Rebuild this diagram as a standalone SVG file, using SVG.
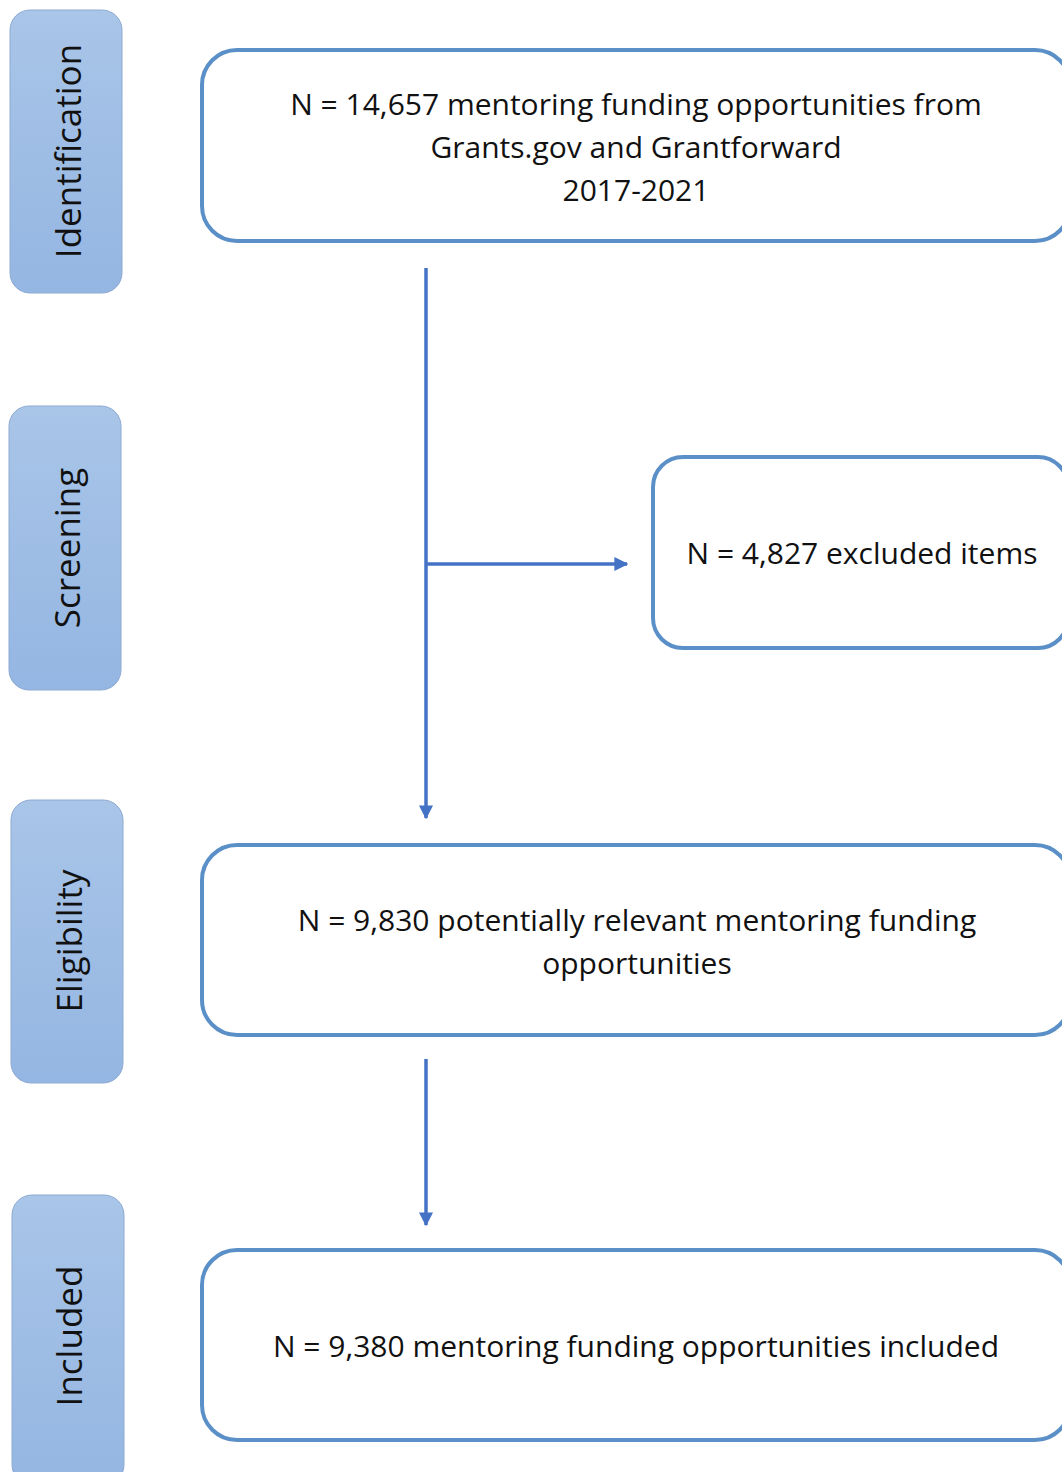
<svg xmlns="http://www.w3.org/2000/svg" width="1062" height="1472" viewBox="0 0 1062 1472">
<defs>
<linearGradient id="g" x1="0" y1="0" x2="0" y2="1">
<stop offset="0" stop-color="#a9c5e8"/>
<stop offset="1" stop-color="#94b6e2"/>
</linearGradient>
<marker id="ah" viewBox="0 0 10 10" refX="9" refY="5" markerWidth="4" markerHeight="4" orient="auto" markerUnits="strokeWidth">
<path d="M0,0 L10,5 L0,10 z" fill="#4472c4"/>
</marker>
<style>
.side{fill:url(#g);stroke:#8eaad2;stroke-width:1}
.box{fill:#fff;stroke:#5b8fc7;stroke-width:4}
.st{font-family:"Open Sans","Liberation Sans",sans-serif;font-size:35px;fill:#111;text-anchor:middle}
.bt{font-family:"Open Sans","Liberation Sans",sans-serif;font-size:30px;fill:#111;text-anchor:middle}
.con{stroke:#4472c4;stroke-width:3.5;fill:none}
</style>
</defs>
<rect width="1062" height="1472" fill="#fff"/>
<g id="side-identification"><rect class="side" x="10" y="10" width="112" height="283" rx="20"/><text class="st" transform="translate(81,151) rotate(-90)">Identification</text></g>
<g id="side-screening"><rect class="side" x="9" y="406" width="112" height="284" rx="20"/><text class="st" transform="translate(80,548) rotate(-90)">Screening</text></g>
<g id="side-eligibility"><rect class="side" x="11" y="800" width="112" height="283" rx="20"/><text class="st" transform="translate(82,941) rotate(-90)">Eligibility</text></g>
<g id="side-included"><rect class="side" x="12" y="1195" width="112" height="290" rx="20"/><text class="st" transform="translate(82,1336) rotate(-90)">Included</text></g>
<g id="box-identification"><rect class="box" x="202" y="50" width="868" height="191" rx="35"/>
<text class="bt" x="636" y="115">N = 14,657 mentoring funding opportunities from</text>
<text class="bt" x="636" y="158">Grants.gov and Grantforward</text>
<text class="bt" x="636" y="201">2017-2021</text></g>
<g id="box-excluded"><rect class="box" x="653" y="457" width="415" height="191" rx="30"/>
<text class="bt" x="862" y="564">N = 4,827 excluded items</text></g>
<g id="box-eligibility"><rect class="box" x="202" y="845" width="868" height="190" rx="35"/>
<text class="bt" x="637" y="931">N = 9,830 potentially relevant mentoring funding</text>
<text class="bt" x="637" y="974">opportunities</text></g>
<g id="box-included"><rect class="box" x="202" y="1250" width="868" height="190" rx="35"/>
<text class="bt" x="636" y="1357">N = 9,380 mentoring funding opportunities included</text></g>
<g id="connectors">
<line class="con" x1="426" y1="268" x2="426" y2="818" marker-end="url(#ah)"/>
<line class="con" x1="426" y1="564" x2="627" y2="564" marker-end="url(#ah)"/>
<line class="con" x1="426" y1="1059" x2="426" y2="1225" marker-end="url(#ah)"/>
</g>
</svg>
